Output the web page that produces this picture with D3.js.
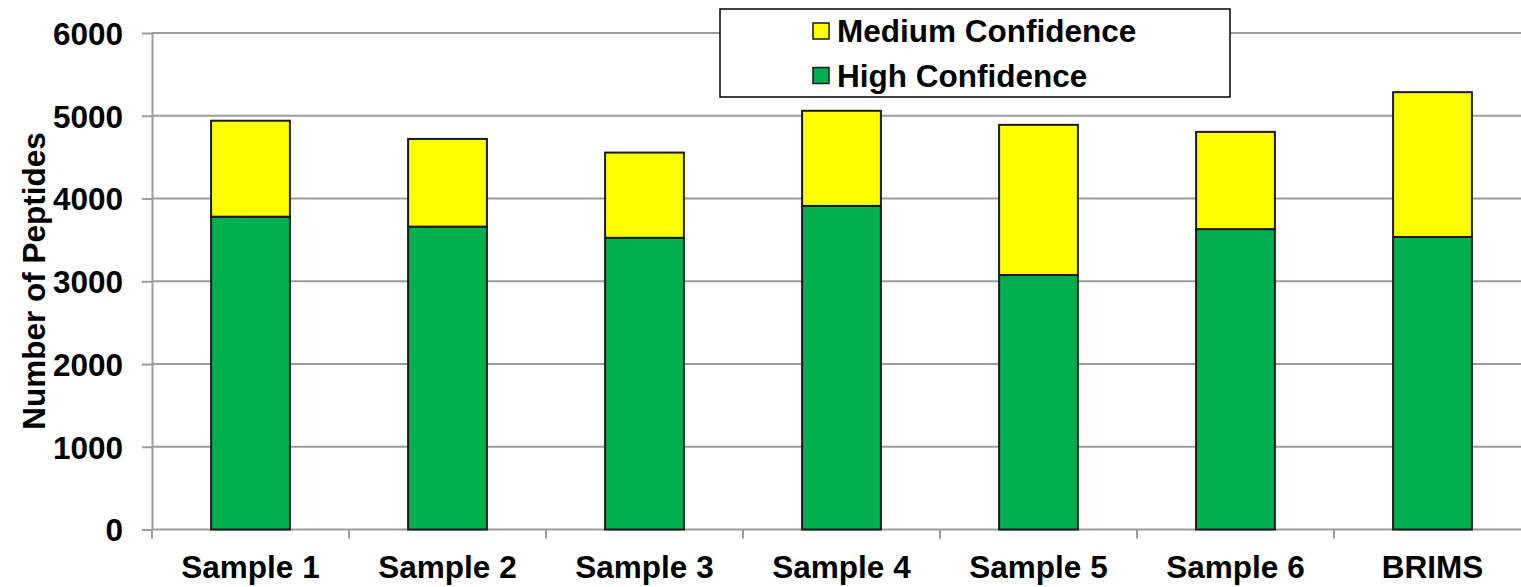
<!DOCTYPE html>
<html>
<head>
<meta charset="utf-8">
<script src="https://cdn.jsdelivr.net/npm/d3@7"></script>
<style>
  html, body { margin: 0; padding: 0; background: #fff; }
  svg { display: block; }
  text { font-family: "Liberation Sans", Arial, Helvetica, sans-serif; font-weight: bold; fill: #000; }
</style>
</head>
<body>
<svg id="chart" width="1521" height="587"></svg>
<script>
// Peptide identifications per sample, split by confidence level
const categories = ["Sample 1", "Sample 2", "Sample 3", "Sample 4", "Sample 5", "Sample 6", "BRIMS"];
const highConfidence = [3780, 3660, 3525, 3910, 3075, 3630, 3535];
const mediumConfidence = [1160, 1060, 1030, 1150, 1815, 1175, 1750];
const yTicks = [0, 1000, 2000, 3000, 4000, 5000, 6000];
const seriesNames = ["High Confidence", "Medium Confidence"];
const legendOrder = ["Medium Confidence", "High Confidence"];
const colors = { "High Confidence": "#00B050", "Medium Confidence": "#FFFF00" };

const svg = d3.select("#chart");
const FS = 31.5;
const plot = { left: 152, right: 152 + 7 * 197, top: 33, bottom: 529.5 };

const rows = categories.map((c, i) => ({
  category: c,
  "High Confidence": highConfidence[i],
  "Medium Confidence": mediumConfidence[i]
}));

const x = d3.scaleBand()
  .domain(categories)
  .range([plot.left, plot.right])
  .paddingInner(0.6)
  .paddingOuter(0.3);

const y = d3.scaleLinear().domain([0, 6000]).range([plot.bottom, plot.top]);

// horizontal gridlines
svg.append("g")
  .selectAll("line")
  .data(yTicks.filter(t => t > 0))
  .join("line")
  .attr("x1", plot.left).attr("x2", plot.right)
  .attr("y1", d => y(d)).attr("y2", d => y(d))
  .attr("stroke", "#9c9c9c").attr("stroke-width", 2);

// y axis
const yAxis = svg.append("g")
  .attr("transform", `translate(${plot.left},0)`)
  .call(d3.axisLeft(y).tickValues(yTicks).tickFormat(d3.format("d"))
    .tickSize(10).tickPadding(19).tickSizeOuter(0));
yAxis.select(".domain").attr("stroke", "#9c9c9c").attr("stroke-width", 2);
yAxis.selectAll(".tick line").attr("stroke", "#9c9c9c").attr("stroke-width", 2);
yAxis.selectAll(".tick text")
  .attr("font-size", FS).attr("font-family", null).attr("fill", "#000")
  .attr("dy", "0.36em");

// x axis baseline and category separators
const step = x.step();
const boundaries = d3.range(categories.length + 1).map(i => plot.left + i * step);
svg.append("line")
  .attr("x1", plot.left).attr("x2", plot.right)
  .attr("y1", plot.bottom).attr("y2", plot.bottom)
  .attr("stroke", "#9c9c9c").attr("stroke-width", 2);
svg.append("g")
  .selectAll("line")
  .data(boundaries)
  .join("line")
  .attr("x1", d => d).attr("x2", d => d)
  .attr("y1", plot.bottom).attr("y2", plot.bottom + 9)
  .attr("stroke", "#9c9c9c").attr("stroke-width", 2);

// category labels
svg.append("g")
  .selectAll("text")
  .data(categories)
  .join("text")
  .attr("x", d => x(d) + x.bandwidth() / 2)
  .attr("y", 578)
  .attr("text-anchor", "middle")
  .attr("font-size", FS)
  .text(d => d);

// stacked bars
const stack = d3.stack().keys(seriesNames);
const layers = stack(rows);
svg.append("g")
  .selectAll("g")
  .data(layers)
  .join("g")
  .attr("fill", d => colors[d.key])
  .selectAll("rect")
  .data(d => d)
  .join("rect")
  .attr("x", d => x(d.data.category))
  .attr("width", x.bandwidth())
  .attr("y", d => y(d[1]))
  .attr("height", d => y(d[0]) - y(d[1]))
  .attr("stroke", "#1a1a1a")
  .attr("stroke-width", 2);

// y axis title
svg.append("text")
  .attr("transform", `translate(45,281) rotate(-90)`)
  .attr("text-anchor", "middle")
  .attr("font-size", FS)
  .text("Number of Peptides");

// legend
const legend = svg.append("g");
legend.append("rect")
  .attr("x", 720).attr("y", 9)
  .attr("width", 510).attr("height", 88)
  .attr("fill", "#fff").attr("stroke", "#000").attr("stroke-width", 1.5);
const items = legend.selectAll("g.item")
  .data(legendOrder)
  .join("g")
  .attr("class", "item")
  .attr("transform", (d, i) => `translate(813,${23 + i * 44.5})`);
items.append("rect")
  .attr("width", 16).attr("height", 16)
  .attr("fill", d => colors[d])
  .attr("stroke", "#1a1a1a").attr("stroke-width", 1.5);
items.append("text")
  .attr("x", 24).attr("y", 19)
  .attr("font-size", FS)
  .text(d => d);
</script>
</body>
</html>
